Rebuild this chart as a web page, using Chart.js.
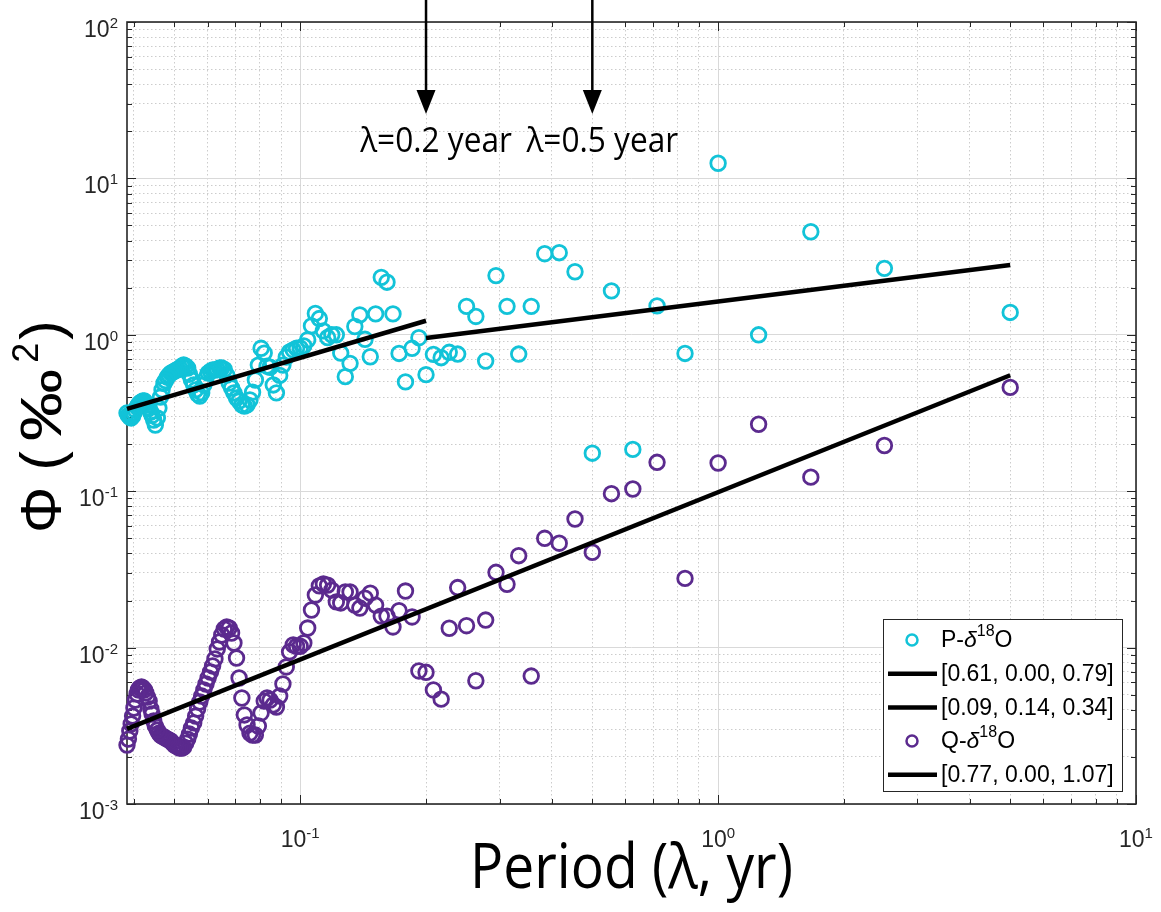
<!DOCTYPE html>
<html>
<head>
<meta charset="utf-8">
<script src="https://cdn.jsdelivr.net/npm/chart.js@4"></script>
<style>
html, body { margin: 0; padding: 0; background: #fff; }
canvas { display: block; }
</style>
</head>
<body>
<canvas id="chart" width="1161" height="912"></canvas>
<script>
// period of each spectral estimate (yr)
const periods = [
	5, 2.5, 1.6667, 1.25, 1, 0.8333, 0.7143, 0.625, 0.5556, 0.5,
	0.4545, 0.4167, 0.3846, 0.3571, 0.3333, 0.3125, 0.2941, 0.2778, 0.2632, 0.25,
	0.2381, 0.2273, 0.2174, 0.2083, 0.2, 0.1923, 0.1852, 0.1786, 0.1724, 0.1667,
	0.1613, 0.1563, 0.1515, 0.1471, 0.1429, 0.1389, 0.1351, 0.1316, 0.1282, 0.125,
	0.122, 0.119, 0.1163, 0.1136, 0.1111, 0.1087, 0.1064, 0.1042, 0.102, 0.1,
	0.098, 0.0962, 0.0943, 0.0926, 0.0909, 0.0893, 0.0877, 0.0862, 0.0847, 0.0833,
	0.082, 0.0806, 0.0794, 0.0781, 0.0769, 0.0758, 0.0746, 0.0735, 0.0725, 0.0714,
	0.0704, 0.0694, 0.0685, 0.0676, 0.0667, 0.0658, 0.0649, 0.0641, 0.0633, 0.0625,
	0.0617, 0.061, 0.0602, 0.0595, 0.0588, 0.0581, 0.0575, 0.0568, 0.0562, 0.0556,
	0.0549, 0.0543, 0.0538, 0.0532, 0.0526, 0.0521, 0.0515, 0.051, 0.0505, 0.05,
	0.0495, 0.049, 0.0485, 0.0481, 0.0476, 0.0472, 0.0467, 0.0463, 0.0459, 0.0455,
	0.045, 0.0446, 0.0442, 0.0439, 0.0435, 0.0431, 0.0427, 0.0424, 0.042, 0.0417,
	0.0413, 0.041, 0.0407, 0.0403, 0.04, 0.0397, 0.0394, 0.0391, 0.0388, 0.0385
];

// P-d18O spectrum
const phiP = [
	1.39, 2.66, 4.56, 1.0, 12.5, 0.76, 1.53, 0.185, 1.91, 0.175,
	2.53, 3.35, 3.3, 1.52, 0.753, 1.52, 2.39, 0.68, 1.31, 1.52,
	0.753, 0.773, 0.714, 0.75, 0.556, 0.958, 0.82, 0.5, 0.76, 1.36,
	2.17, 2.33, 1.36, 0.724, 0.936, 1.34, 1.13, 0.657, 0.54, 0.764,
	1.0, 1.0, 0.96, 1.06, 1.27, 1.37, 1.14, 0.93, 0.85, 0.823,
	0.82, 0.8, 0.776, 0.72, 0.64, 0.55, 0.425, 0.478, 0.62, 0.63,
	0.764, 0.82, 0.64, 0.514, 0.43, 0.383, 0.356, 0.35, 0.356, 0.377,
	0.394, 0.425, 0.457, 0.491, 0.553, 0.6, 0.613, 0.613, 0.6, 0.595,
	0.595, 0.585, 0.569, 0.529, 0.478, 0.425, 0.406, 0.418, 0.444, 0.478,
	0.514, 0.56, 0.613, 0.63, 0.641, 0.63, 0.613, 0.6, 0.595, 0.585,
	0.577, 0.569, 0.553, 0.537, 0.51, 0.49, 0.444, 0.4, 0.34, 0.294,
	0.265, 0.285, 0.305, 0.32, 0.34, 0.356, 0.366, 0.377, 0.377, 0.372,
	0.366, 0.356, 0.345, 0.33, 0.316, 0.302, 0.294, 0.298, 0.305, 0.316
];

// Q-d18O spectrum
const phiQ = [
	0.461, 0.196, 0.123, 0.268, 0.1515, 0.0277, 0.153, 0.1033, 0.0964, 0.0407,
	0.0664, 0.0465, 0.05, 0.00658, 0.0387, 0.0254, 0.0303, 0.015, 0.00614, 0.0138,
	0.0242, 0.0133, 0.00468, 0.00536, 0.00695, 0.00709, 0.0157, 0.023, 0.0172, 0.01355,
	0.0159, 0.0159, 0.0187, 0.0223, 0.0207, 0.0179, 0.0187, 0.0227, 0.0227, 0.0193,
	0.0196, 0.0233, 0.0251, 0.0255, 0.0248, 0.0217, 0.0174, 0.01334, 0.0107, 0.0102,
	0.0102, 0.0104, 0.0094, 0.00752, 0.00585, 0.0049, 0.00417, 0.0043, 0.00462, 0.00476,
	0.00455, 0.00382, 0.00315, 0.00276, 0.00276, 0.00284, 0.0032, 0.00371, 0.00476, 0.00639,
	0.00858, 0.0107, 0.0124, 0.01334, 0.01354, 0.01315, 0.01204, 0.01086, 0.0098, 0.00846,
	0.00763, 0.00698, 0.00639, 0.00585, 0.00536, 0.0049, 0.00449, 0.00405, 0.00365, 0.0033,
	0.00306, 0.0028, 0.0026, 0.00245, 0.00231, 0.00228, 0.00228, 0.00231, 0.00235, 0.00238,
	0.00245, 0.00253, 0.00257, 0.0026, 0.00264, 0.00268, 0.00272, 0.00276, 0.00284, 0.00297,
	0.00315, 0.0034, 0.00376, 0.00405, 0.00455, 0.00483, 0.00513, 0.00536, 0.00552, 0.0056,
	0.00552, 0.00536, 0.00505, 0.00462, 0.00411, 0.00365, 0.00325, 0.00293, 0.0026, 0.00238
];

// power-law fits (end points)
const fitP1X	= [ 0.0385, 0.2 ];
const fitP1Y	= [ 0.336, 1.23 ];
const fitP2X	= [ 0.2, 5 ];
const fitP2Y	= [ 0.955, 2.79 ];
const fitQX		= [ 0.0385, 5 ];
const fitQY		= [ 0.00302, 0.551 ];

const legendLabels	= [ 'P-\\delta^{18}O', '[0.61, 0.00, 0.79]', '[0.09, 0.14, 0.34]', 'Q-\\delta^{18}O', '[0.77, 0.00, 1.07]' ];

const xTicks	= [ 0.04, 0.05, 0.06, 0.07, 0.08, 0.09, 0.1, 0.2, 0.3, 0.4, 0.5, 0.6, 0.7, 0.8, 0.9, 1, 2, 3, 4, 5, 6, 7, 8, 9, 10 ];
const yTicks	= [ 0.001, 0.002, 0.003, 0.004, 0.005, 0.006, 0.007, 0.008, 0.009,
	0.01, 0.02, 0.03, 0.04, 0.05, 0.06, 0.07, 0.08, 0.09,
	0.1, 0.2, 0.3, 0.4, 0.5, 0.6, 0.7, 0.8, 0.9,
	1, 2, 3, 4, 5, 6, 7, 8, 9,
	10, 20, 30, 40, 50, 60, 70, 80, 90, 100 ];

const arrowPeriods	= [ 0.2, 0.5 ];
const arrowLabels	= [ 'λ=0.2 year', 'λ=0.5 year' ];

const CYAN		= '#12c3d8';
const PURPLE	= '#5b2a8e';
const AXIS		= '#262626';
const FONT		= '"Liberation Sans", Arial, Helvetica, sans-serif';
const TITLE_FONT	= '"Open Sans", sans-serif';

function isDecade( v ) {
	const l = Math.log10( v );
	return Math.abs( l - Math.round( l ) ) < 1e-6;
}

function pts( xs, ys ) {
	return xs.map( ( x, i ) => ( { x: x, y: ys[ i ] } ) );
}

// draws "10" with a raised exponent
function powLabel( ctx, exp, x, y, align ) {
	ctx.font = '23px ' + FONT;
	const wb = ctx.measureText( '10' ).width;
	ctx.font = '15px ' + FONT;
	const sup = String( exp );
	const ws = ctx.measureText( sup ).width;
	const left = align === 'right' ? x - wb - ws : x - ( wb + ws ) / 2;
	ctx.textAlign = 'left';
	ctx.textBaseline = 'alphabetic';
	ctx.font = '23px ' + FONT;
	ctx.fillText( '10', left, y );
	ctx.font = '15px ' + FONT;
	ctx.fillText( sup, left + wb, y - 9 );
}

// tiny TeX: \delta in italics, ^{..} raised
function richText( ctx, str, x, y, size ) {
	const re = /(\\delta)|\^\{([^}]*)\}|([^\\^]+)/g;
	let m;
	ctx.textAlign = 'left';
	while ( ( m = re.exec( str ) ) !== null ) {
		let txt, font, dy = 0;
		if ( m[ 1 ] ) {
			txt = 'δ'; font = 'italic ' + size + 'px ' + FONT;
		} else if ( m[ 2 ] !== undefined ) {
			txt = m[ 2 ]; font = Math.round( size * 0.68 ) + 'px ' + FONT; dy = -size * 0.42;
		} else {
			txt = m[ 3 ]; font = size + 'px ' + FONT;
		}
		ctx.font = font;
		ctx.fillText( txt, x, y + dy );
		x += ctx.measureText( txt ).width;
	}
}

const matlabAxes = {
	id: 'matlabAxes',
	beforeDatasetsDraw( chart ) {
		const { ctx, chartArea: a, scales: { x, y } } = chart;
		ctx.save();
		ctx.strokeStyle = AXIS;
		ctx.lineWidth = 1;
		ctx.beginPath();
		for ( const v of xTicks ) {
			const px = Math.round( x.getPixelForValue( v ) ) + 0.5;
			const len = isDecade( v ) ? 9 : 5;
			ctx.moveTo( px, a.bottom ); ctx.lineTo( px, a.bottom - len );
			ctx.moveTo( px, a.top ); ctx.lineTo( px, a.top + len );
		}
		for ( const v of yTicks ) {
			const py = Math.round( y.getPixelForValue( v ) ) + 0.5;
			const len = isDecade( v ) ? 9 : 5;
			ctx.moveTo( a.left, py ); ctx.lineTo( a.left + len, py );
			ctx.moveTo( a.right, py ); ctx.lineTo( a.right - len, py );
		}
		ctx.stroke();
		ctx.lineWidth = 1.6;
		ctx.strokeRect( a.left, a.top, a.right - a.left, a.bottom - a.top );
		ctx.restore();
	},
	afterDraw( chart ) {
		const { ctx, chartArea: a, scales: { x, y } } = chart;
		ctx.save();

		// tick labels
		ctx.fillStyle = AXIS;
		for ( const v of xTicks ) {
			if ( isDecade( v ) )
				powLabel( ctx, Math.round( Math.log10( v ) ), x.getPixelForValue( v ), a.bottom + 43, 'center' );
		}
		for ( const v of yTicks ) {
			if ( isDecade( v ) )
				powLabel( ctx, Math.round( Math.log10( v ) ), a.left - 9, y.getPixelForValue( v ) + 15, 'right' );
		}

		// x title, a bit narrower than Open Sans
		ctx.fillStyle = '#000';
		ctx.save();
		ctx.translate( ( a.left + a.right ) / 2, 888 );
		ctx.scale( 0.89, 1 );
		ctx.font = '62px ' + TITLE_FONT;
		ctx.textAlign = 'center';
		ctx.textBaseline = 'alphabetic';
		ctx.fillText( 'Period (λ, yr)', 0, 0 );
		ctx.restore();

		// y title, read bottom to top from the Phi
		ctx.save();
		ctx.translate( 61, 533 );
		ctx.rotate( -Math.PI / 2 );
		ctx.textAlign = 'left';
		let cx = 0;
		ctx.font = '58px ' + FONT;
		ctx.fillText( 'Φ (', cx, 0 );
		cx += ctx.measureText( 'Φ (' ).width + 10;
		ctx.save();
		ctx.translate( cx, 0 );
		ctx.scale( 1.25, 1 );
		ctx.fillText( '‰', 0, 0 );
		cx += ctx.measureText( '‰' ).width * 1.25 + 6;
		ctx.restore();
		ctx.font = '36px ' + FONT;
		ctx.fillText( '2', cx, -23 );
		cx += ctx.measureText( '2' ).width + 3;
		ctx.font = '58px ' + FONT;
		ctx.fillText( ')', cx, 0 );
		ctx.restore();

		// arrows marking 0.2 and 0.5 yr
		ctx.strokeStyle = '#000';
		ctx.fillStyle = '#000';
		ctx.lineWidth = 2.5;
		arrowPeriods.forEach( ( p, i ) => {
			const px = x.getPixelForValue( p );
			ctx.beginPath();
			ctx.moveTo( px, 0 );
			ctx.lineTo( px, 95 );
			ctx.stroke();
			ctx.beginPath();
			ctx.moveTo( px - 9.5, 90 );
			ctx.lineTo( px + 9.5, 90 );
			ctx.lineTo( px, 114 );
			ctx.closePath();
			ctx.fill();
			ctx.save();
			ctx.translate( px + 10, 152 );
			ctx.scale( 0.93, 1 );
			ctx.font = '34px ' + TITLE_FONT;
			ctx.textAlign = 'center';
			ctx.fillText( arrowLabels[ i ], 0, 0 );
			ctx.restore();
		} );

		// legend
		const lx = 883, ly = 619, lw = 239, lh = 172;
		ctx.fillStyle = '#fff';
		ctx.fillRect( lx, ly, lw, lh );
		ctx.strokeStyle = AXIS;
		ctx.lineWidth = 1;
		ctx.strokeRect( lx + 0.5, ly + 0.5, lw, lh );
		chart.data.datasets.forEach( ( ds, i ) => {
			const ry = ly + 21 + i * 33.7;
			if ( ds.showLine ) {
				ctx.strokeStyle = ds.borderColor;
				ctx.lineWidth = 4.5;
				ctx.beginPath();
				ctx.moveTo( 888, ry );
				ctx.lineTo( 937, ry );
				ctx.stroke();
			} else {
				ctx.strokeStyle = ds.borderColor;
				ctx.lineWidth = 2.5;
				ctx.beginPath();
				ctx.arc( 912, ry, 5.5, 0, Math.PI * 2 );
				ctx.stroke();
			}
			ctx.fillStyle = '#000';
			ctx.textBaseline = 'middle';
			richText( ctx, ds.label, 941, ry + 1, 23 );
		} );
		ctx.restore();
	}
};

const pointStyle = ( color ) => ( {
	showLine: false,
	borderColor: color,
	backgroundColor: 'rgba(0,0,0,0)',
	pointRadius: 7.3,
	pointBorderWidth: 2.8,
	pointHoverRadius: 7.3,
	order: 2,
	clip: false
} );

const lineStyle = {
	showLine: true,
	borderColor: '#000',
	borderWidth: 4.5,
	pointRadius: 0,
	order: 1,
	clip: false
};

new Chart( document.getElementById( 'chart' ), {
	type: 'scatter',
	data: {
		datasets: [
			Object.assign( { label: legendLabels[ 0 ], data: pts( periods, phiP ) }, pointStyle( CYAN ) ),
			Object.assign( { label: legendLabels[ 1 ], data: pts( fitP1X, fitP1Y ) }, lineStyle ),
			Object.assign( { label: legendLabels[ 2 ], data: pts( fitP2X, fitP2Y ) }, lineStyle ),
			Object.assign( { label: legendLabels[ 3 ], data: pts( periods, phiQ ) }, pointStyle( PURPLE ) ),
			Object.assign( { label: legendLabels[ 4 ], data: pts( fitQX, fitQY ) }, lineStyle )
		]
	},
	options: {
		responsive: false,
		animation: false,
		devicePixelRatio: 1,
		layout: { padding: { left: 127, top: 22, right: 25, bottom: 108 } },
		plugins: { legend: { display: false }, tooltip: { enabled: false } },
		scales: {
			x: {
				type: 'logarithmic',
				min: 0.0385,
				max: 10,
				afterBuildTicks: s => { s.ticks = xTicks.map( v => ( { value: v } ) ); },
				ticks: { display: false },
				grid: {
					drawTicks: false,
					color: c => c.tick && isDecade( c.tick.value ) ? '#d9d9d9' : '#cccccc',
					lineWidth: 1
				},
				border: {
					display: false,
					dash: c => c.tick && !isDecade( c.tick.value ) ? [ 1.5, 2.5 ] : []
				}
			},
			y: {
				type: 'logarithmic',
				min: 0.001,
				max: 100,
				afterBuildTicks: s => { s.ticks = yTicks.map( v => ( { value: v } ) ); },
				ticks: { display: false },
				grid: {
					drawTicks: false,
					color: c => c.tick && isDecade( c.tick.value ) ? '#d9d9d9' : '#cccccc',
					lineWidth: 1
				},
				border: {
					display: false,
					dash: c => c.tick && !isDecade( c.tick.value ) ? [ 1.5, 2.5 ] : []
				}
			}
		}
	},
	plugins: [ matlabAxes ]
} );
</script>
</body>
</html>
